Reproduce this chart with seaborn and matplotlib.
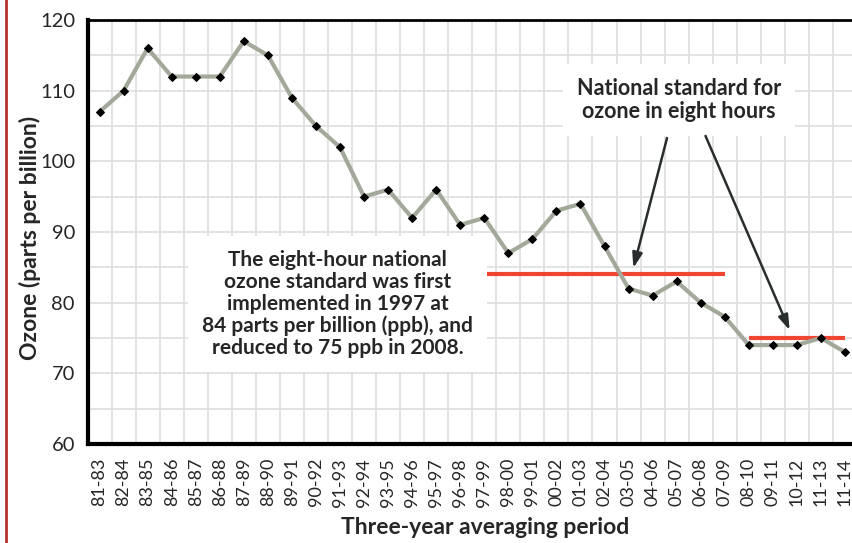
import numpy as np
import matplotlib
matplotlib.use('Agg')
import matplotlib.pyplot as plt
import matplotlib.lines as mlines
import seaborn as sns

# Three-year averaging periods and ozone values (ppb)
periods = ['81-83', '82-84', '83-85', '84-86', '85-87', '86-88', '87-89', '88-90',
           '89-91', '90-92', '91-93', '92-94', '93-95', '94-96', '95-97', '96-98',
           '97-99', '98-00', '99-01', '00-02', '01-03', '02-04', '03-05', '04-06',
           '05-07', '06-08', '07-09', '08-10', '09-11', '10-12', '11-13', '11-14']
ozone = [107, 110, 116, 112, 112, 112, 117, 115, 109, 105, 102, 95, 96, 92, 96, 91,
         92, 87, 89, 93, 94, 88, 82, 81, 83, 80, 78, 74, 74, 74, 75, 73]

# National eight-hour standards
std_values = [84, 75]
std_start = ['97-99', '08-10']
std_end = ['07-09', '11-14']

sns.set_style('white')
plt.rcParams['font.family'] = ['Lato', 'DejaVu Sans']

fig = plt.figure(figsize=(8.52, 5.43), dpi=100)
W, H = 852, 543
ax = fig.add_axes([87.5 / W, 1 - 444 / H, (857 - 87.5) / W, (444 - 20) / H])

x = np.arange(len(periods))
sns.lineplot(x=x, y=ozone, ax=ax, color='#a2a99a', linewidth=3, marker='D',
             markersize=4, markerfacecolor='black', markeredgecolor='black', zorder=4)

# standard lines
for v, s, e in zip(std_values, std_start, std_end):
    ax.hlines(v, periods.index(s), periods.index(e), color='#ef4531', linewidth=3, zorder=3)

ax.set_xlim(-0.5, len(periods) - 0.5)
ax.set_ylim(60, 120)
ax.set_yticks(range(60, 121, 10))
ax.set_yticks(range(60, 121, 5), minor=True)
ax.set_xticks(x)
ax.set_xticklabels(periods, rotation=90, fontsize=13)
ax.set_xticks(np.arange(-0.5, len(periods), 1), minor=True)
ax.tick_params(axis='x', which='major', length=0, pad=10)
ax.tick_params(axis='x', which='minor', length=10, width=2, direction='out', color='black')
ax.tick_params(axis='y', which='major', length=7, width=1.5, direction='out', labelsize=14.5, pad=2)
ax.tick_params(axis='y', which='minor', length=0)
ax.grid(which='minor', color='#e0e0e0', linewidth=1.3)
ax.grid(which='major', axis='y', color='#e0e0e0', linewidth=1.3)
ax.set_axisbelow(True)

for side in ['left', 'bottom']:
    ax.spines[side].set_linewidth(3)
    ax.spines[side].set_color('black')
ax.spines['top'].set_linewidth(2)
ax.spines['top'].set_color('black')
ax.spines['right'].set_visible(False)

ax.set_xlabel('Three-year averaging period', fontsize=16.5, fontweight='bold')
ax.set_ylabel('Ozone (parts per billion)', fontsize=16.5, fontweight='bold')
ax.xaxis.set_label_coords((485 - 87.5) / 769.5, -(527 - 444) / 424)
ax.yaxis.set_label_coords(-(87.5 - 30) / 769.5, (444 - 238) / 424)
ax.xaxis.label.set_va('center')
ax.yaxis.label.set_va('center')

# annotations
ax.text(9.9, 79.8, 'The eight-hour national\nozone standard was first\nimplemented in 1997 at\n'
        '84 parts per billion (ppb), and\nreduced to 75 ppb in 2008.',
        ha='center', va='center', fontsize=15, fontweight='bold', linespacing=1.12, zorder=5,
        bbox=dict(facecolor='white', edgecolor='none', pad=10))
ax.text(24.1, 108.7, 'National standard for\nozone in eight hours',
        ha='center', va='center', fontsize=15.5, fontweight='bold', linespacing=1.12, zorder=5,
        bbox=dict(facecolor='white', edgecolor='none', pad=10))
arrow = dict(arrowstyle='-|>,head_length=0.9,head_width=0.3', color='#2a2d2e', lw=1.8,
             shrinkA=0, shrinkB=0)
ax.annotate('', xy=(22.2, 84.9), xytext=(23.6, 103.3), arrowprops=arrow, zorder=6)
ax.annotate('', xy=(28.7, 76.1), xytext=(25.2, 103.6), arrowprops=arrow, zorder=6)

# red border on the left
fig.add_artist(mlines.Line2D([5.5 / W, 5.5 / W], [0, 1], color='#b5322a', linewidth=2))

fig.savefig('out.png', dpi=100)
